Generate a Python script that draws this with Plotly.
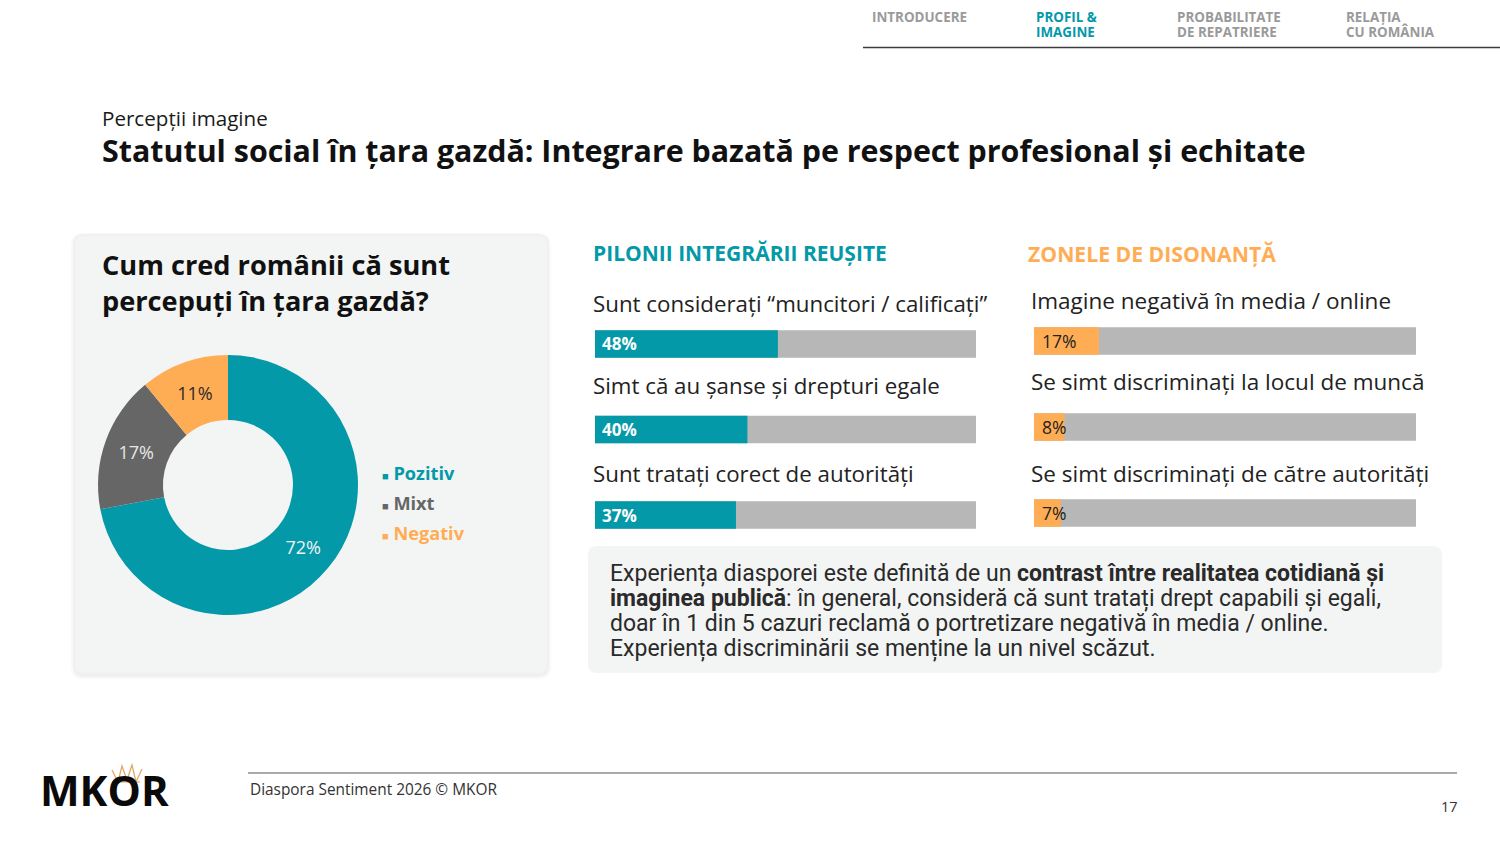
import plotly.graph_objects as go

W, H = 1500, 844
def px(x): return x / W
def py(y): return 1 - y / H

# ---------------- data ----------------
donut_labels = ["Pozitiv", "Mixt", "Negativ"]
donut_values = [72, 17, 11]
donut_colors = ["#0399A8", "#666666", "#FFAD55"]
donut_text_colors = ["#F2F2F2", "#E6E6E6", "#2B2B2B"]

pillar_labels = ["Sunt considerați “muncitori / calificați”",
                 "Simt că au șanse și drepturi egale",
                 "Sunt tratați corect de autorități"]
pillar_values = [48, 40, 37]

dissonance_labels = ["Imagine negativă în media / online",
                     "Se simt discriminați la locul de muncă",
                     "Se simt discriminați de către autorități"]
dissonance_values = [17, 8, 7]

nav_items = [["INTRODUCERE"], ["PROFIL &", "IMAGINE"], ["PROBABILITATE", "DE REPATRIERE"], ["RELAȚIA", "CU ROMÂNIA"]]

note_lines = [
    "Experiența diasporei este definită de un <b>contrast între realitatea cotidiană și</b>",
    "<b>imaginea publică</b>: în general, consideră că sunt tratați drept capabili și egali,",
    "doar în 1 din 5 cazuri reclamă o portretizare negativă în media / online.",
    "Experiența discriminării se menține la un nivel scăzut.",
]

TEAL = "#0399A8"
ORANGE = "#FFAD55"
GRAYBAR = "#B7B7B7"
FONT = "Open Sans"

fig = go.Figure()

# ---------------- donut ----------------
fig.add_trace(go.Pie(
    labels=donut_labels, values=donut_values, hole=0.5, sort=False,
    direction="clockwise", rotation=0,
    marker=dict(colors=donut_colors, line=dict(width=0)),
    texttemplate="%{value}%", textposition="inside",
    insidetextorientation="horizontal",
    textfont=dict(family=FONT, size=18, color=donut_text_colors),
    domain=dict(x=[px(98), px(358)], y=[py(615), py(355)]),
    showlegend=False, hoverinfo="label+percent",
))

# ---------------- bars ----------------
def add_bars(values, labels, color, xa, ya):
    cats = list(range(len(values)))
    fig.add_trace(go.Bar(x=[100] * len(values), y=cats, orientation="h",
                         marker=dict(color=GRAYBAR, line=dict(width=0)),
                         width=0.32, xaxis=xa, yaxis=ya, showlegend=False, hoverinfo="skip"))
    fig.add_trace(go.Bar(x=values, y=cats, orientation="h",
                         marker=dict(color=color, line=dict(width=0)),
                         width=0.32, xaxis=xa, yaxis=ya, showlegend=False,
                         hovertext=labels, hoverinfo="text+x"))

add_bars(pillar_values, pillar_labels, TEAL, "x", "y")
add_bars(dissonance_values, dissonance_labels, ORANGE, "x2", "y2")

axis_common = dict(showgrid=False, zeroline=False, showticklabels=False, showline=False, fixedrange=True)
fig.update_layout(
    xaxis=dict(domain=[px(595), px(976)], range=[0, 100], anchor="y", **axis_common),
    yaxis=dict(domain=[py(557.75), py(301.25)], range=[2.5, -0.5], anchor="x", **axis_common),
    xaxis2=dict(domain=[px(1034), px(1416)], range=[0, 100], anchor="y2", **axis_common),
    yaxis2=dict(domain=[py(556), py(298)], range=[2.5, -0.5], anchor="x2", **axis_common),
    barmode="overlay",
)

annotations = []
shapes = []

def text(x, y, s, size, color="#1A1A1A", bold=False, anchor="left", family=FONT, yanchor="middle"):
    xs = -2 if anchor == "left" else (2 if anchor == "right" else 0)
    annotations.append(dict(
        x=px(x), y=py(y), xref="paper", yref="paper", text=(f"<b>{s}</b>" if bold else s),
        showarrow=False, xanchor=anchor, yanchor=yanchor, xshift=xs,
        font=dict(family=family, size=size, color=color), align=anchor if anchor != "center" else "center"))

# value labels inside bars (placed via the axes' own scales)
for i, v in enumerate(pillar_values):
    annotations.append(dict(x=0, y=i, xref="x", yref="y", text=f"<b>{v}%</b>", showarrow=False,
                            xanchor="left", yanchor="middle", xshift=5,
                            font=dict(family=FONT, size=17, color="white")))
for i, v in enumerate(dissonance_values):
    annotations.append(dict(x=0, y=i, xref="x2", yref="y2", text=f"{v}%", showarrow=False,
                            xanchor="left", yanchor="middle", xshift=6,
                            font=dict(family=FONT, size=17.5, color="#222222")))

# bar category labels
for lbl, yy in zip(pillar_labels, [304, 385, 473]):
    text(593, yy, lbl, 22.3, "#222222")
for lbl, yy in zip(dissonance_labels, [300, 381, 473]):
    text(1031, yy, lbl, 22.5, "#222222")

# section headers
text(593, 253, "PILONII INTEGRĂRII REUȘITE", 21, TEAL, bold=True)
text(1028, 253, "ZONELE DE DISONANȚĂ", 21.2, ORANGE, bold=True)

# slide titles
text(102, 118, "Percepții imagine", 20.6, "#1A1A1A")
text(102, 150, "Statutul social în țara gazdă: Integrare bazată pe respect profesional și echitate", 30.4, "#111111", bold=True)

# card title
text(102, 265, "Cum cred românii că sunt", 27.2, "#111111", bold=True)
text(102, 300, "percepuți în țara gazdă?", 27.2, "#111111", bold=True)

# donut legend
for lbl, c, yy in zip(donut_labels, donut_colors, [473, 503, 533]):
    text(382, yy, f"<span style='font-size:11px'>■</span> <b>{lbl}</b>", 18.2, c)

# nav
nav_x = [872, 1036, 1177, 1346]
nav_colors = ["#9A9A9A", TEAL, "#9A9A9A", "#9A9A9A"]
for lines, xx, c in zip(nav_items, nav_x, nav_colors):
    for j, ln in enumerate(lines):
        text(xx, 17 + 15 * j, ln, 13.4, c, bold=True)
shapes.append(dict(type="line", xref="paper", yref="paper", x0=px(863), x1=px(1500), y0=py(47.5), y1=py(47.5),
                   line=dict(color="#3A3A3A", width=1.5)))

# note box text
for i, ln in enumerate(note_lines):
    text(610, 573 + 25 * i, ln, 23, "#2A2A2A", family="Roboto")

# footer
text(40, 789, "<b>MKOR</b>", 42, "#0A0A0A")
crown_pts = [(112, 770), (118, 782), (122, 766), (127, 780), (132, 765), (136, 782), (142, 769)]
crown_path = "M " + " L ".join(f"{px(a)},{py(b)}" for a, b in crown_pts)
shapes.append(dict(type="path", xref="paper", yref="paper", path=crown_path,
                   line=dict(color="#E2A86A", width=1.3), fillcolor="rgba(0,0,0,0)"))
shapes.append(dict(type="line", xref="paper", yref="paper", x0=px(114), x1=px(140), y0=py(782), y1=py(782),
                   line=dict(color="#E2A86A", width=1.2)))
shapes.append(dict(type="line", xref="paper", yref="paper", x0=px(248), x1=px(1457), y0=py(773), y1=py(773),
                   line=dict(color="#555555", width=1.2)))
text(250, 789, "Diaspora Sentiment 2026 © MKOR", 15.4, "#333333")
text(1458, 806, "17", 14.5, "#333333", anchor="right")

# rounded rectangles
def rrect(x0, y0, x1, y1, r, fill, layer="below"):
    rx, ry = r / W, r / H
    X0, X1 = px(x0), px(x1)
    Y0, Y1 = py(y0), py(y1)  # Y0 top (larger), Y1 bottom
    path = (f"M {X0+rx},{Y0} L {X1-rx},{Y0} Q {X1},{Y0} {X1},{Y0-ry} "
            f"L {X1},{Y1+ry} Q {X1},{Y1} {X1-rx},{Y1} L {X0+rx},{Y1} Q {X0},{Y1} {X0},{Y1+ry} "
            f"L {X0},{Y0-ry} Q {X0},{Y0} {X0+rx},{Y0} Z")
    shapes.append(dict(type="path", xref="paper", yref="paper", path=path, fillcolor=fill,
                       line=dict(width=0), layer=layer))

# card shadow + card
rrect(71, 233, 551, 679, 12, "rgba(0,0,0,0.025)")
rrect(73, 234, 549, 677, 11, "rgba(0,0,0,0.035)")
rrect(75, 236, 547, 673, 9, "#F3F5F4")
# note box
rrect(588, 546, 1442, 673, 9, "#F3F5F4")

fig.update_layout(
    width=W, height=H, margin=dict(l=0, r=0, t=0, b=0),
    paper_bgcolor="white", plot_bgcolor="rgba(0,0,0,0)",
    annotations=annotations, shapes=shapes, showlegend=False,
    font=dict(family=FONT),
)

fig.write_html("out.html")
